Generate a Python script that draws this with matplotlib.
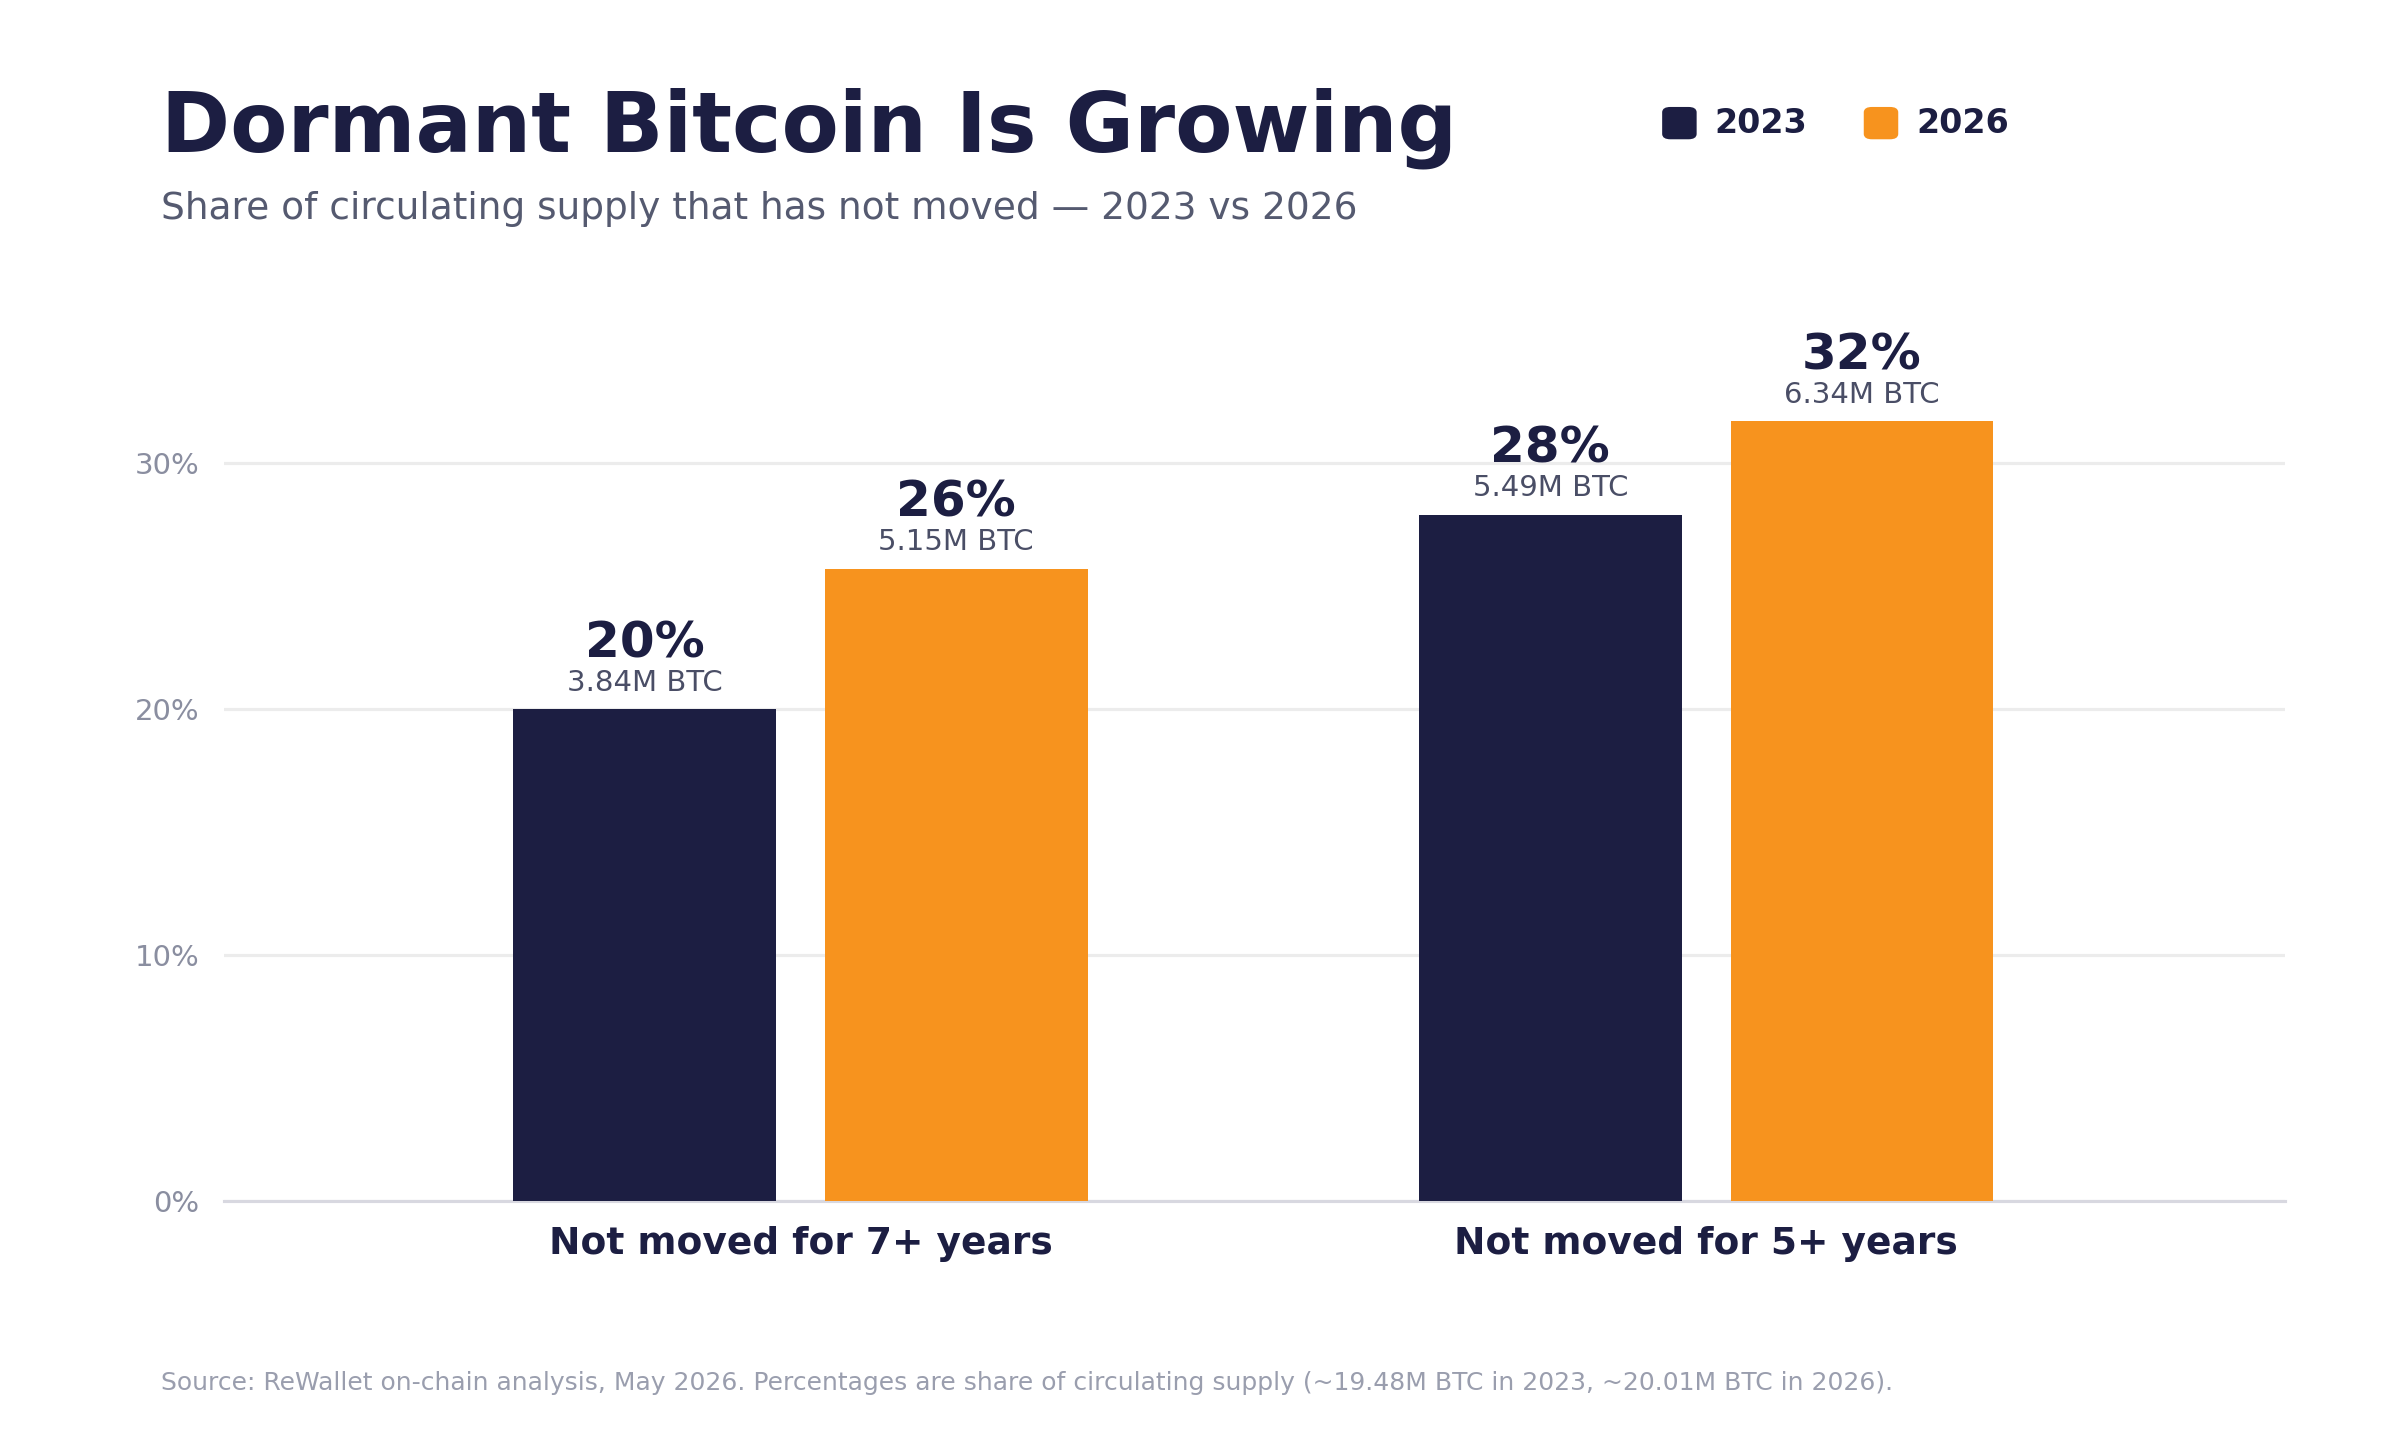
import matplotlib.pyplot as plt
from matplotlib.patches import FancyBboxPatch

categories = ["Not moved for 7+ years", "Not moved for 5+ years"]
years = ["2023", "2026"]
share_2023 = [20.0, 27.9]
share_2026 = [25.7, 31.7]
btc_2023 = ["3.84M BTC", "5.49M BTC"]
btc_2026 = ["5.15M BTC", "6.34M BTC"]
yticks = [0, 10, 20, 30]

NAVY = "#1c1e42"
ORANGE = "#f7931e"
GREY = "#8a8ea0"

fig = plt.figure(figsize=(16, 9.6), dpi=150)
ax = fig.add_axes([0.0935, 0.166, 0.8585, 0.598])

offset = 0.172
width = 0.29
x = list(range(len(categories)))
for vals, labels, color, sign in [(share_2023, btc_2023, NAVY, -1), (share_2026, btc_2026, ORANGE, 1)]:
    xs = [i + sign * offset for i in x]
    ax.bar(xs, vals, width=width, color=color, zorder=3)
    for xi, v, lab in zip(xs, vals, labels):
        ax.text(xi, v + 0.5, lab, ha="center", va="bottom", fontsize=14, color="#4a4e66")
        ax.text(xi, v + 1.7, f"{round(v):.0f}%", ha="center", va="bottom",
                fontsize=24, fontweight="bold", color=NAVY)

ax.set_xlim(-0.636, 1.639)
ax.set_ylim(0, 35)
ax.set_yticks(yticks)
ax.set_yticklabels([f"{t}%" for t in yticks], fontsize=14, color=GREY)
ax.set_xticks(x)
ax.set_xticklabels(categories, fontsize=18, fontweight="bold", color=NAVY)
ax.tick_params(axis="both", length=0, pad=12)
ax.grid(axis="y", color="#ececec", linewidth=1.5, zorder=0)
for s in ["top", "right", "left"]:
    ax.spines[s].set_visible(False)
ax.spines["bottom"].set_color("#d8d8e0")
ax.spines["bottom"].set_linewidth(1.5)

fig.text(0.067, 0.895, "Dormant Bitcoin Is Growing", fontsize=40, fontweight="bold",
         color=NAVY, va="baseline")
fig.text(0.067, 0.848, "Share of circulating supply that has not moved — 2023 vs 2026",
         fontsize=18, color="#555a70", va="baseline")
fig.text(0.067, 0.035,
         "Source: ReWallet on-chain analysis, May 2026. Percentages are share of circulating supply "
         "(~19.48M BTC in 2023, ~20.01M BTC in 2026).",
         fontsize=12, color="#9a9eae", va="baseline")

# legend
for lx, label, color in [(0.693, years[0], NAVY), (0.777, years[1], ORANGE)]:
    fig.patches.append(FancyBboxPatch((lx, 0.904), 0.0135, 0.021, boxstyle="round,pad=0,rounding_size=0.003",
                                      transform=fig.transFigure, color=color))
    fig.text(lx + 0.0215, 0.914, label, fontsize=16, fontweight="bold", color=NAVY, va="center")

fig.savefig("out.png", dpi=150, facecolor="white")
